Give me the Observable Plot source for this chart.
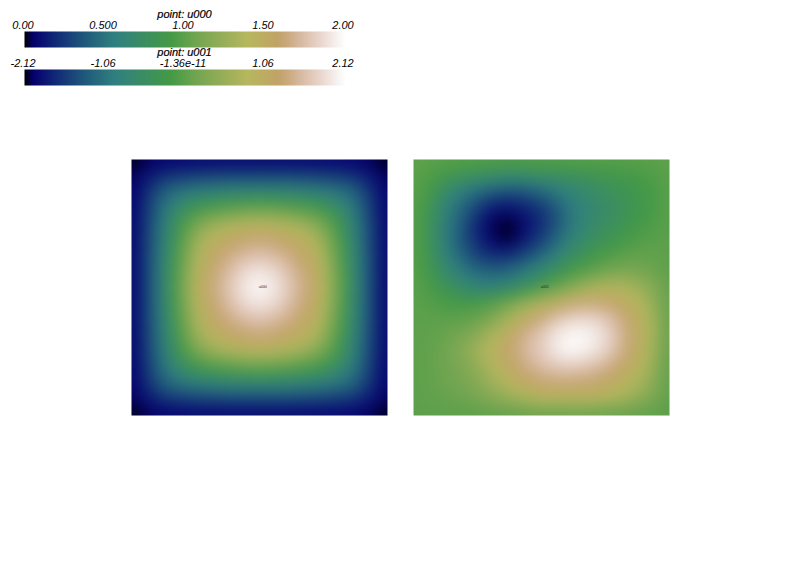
<!DOCTYPE html>
<html>
<head>
<meta charset="utf-8">
<script src="https://cdn.jsdelivr.net/npm/d3@7"></script>
<script src="https://cdn.jsdelivr.net/npm/@observablehq/plot@0.6"></script>
<style>
html,body{margin:0;padding:0;background:#fff;}
#page{position:relative;width:800px;height:575px;overflow:hidden;background:#fff;}
#page svg{position:absolute;overflow:visible;}
</style>
</head>
<body>
<div id="page"></div>
<script>
const earthStops = [0,.0275,.11,.1647,.2078,.2824,.4588,.5216,.549,.698,.7882,.8157,.8667,.93,.98,1];
const earthColors = ["#000000","#05006e","#133078","#1c4d7a","#23627c","#308080","#459a46","#69a34e","#78a652","#b7b75e","#c1a366","#c8a778","#d9bba5","#ebd8d0","#f8f4f1","#fefefe"];

const u000Ticks = [0,0.5,1,1.5,2];
const u000Labels = ["0.00","0.500","1.00","1.50","2.00"];
const u001Ticks = [-2.12,-1.06,0,1.06,2.12];
const u001Labels = ["-2.12","-1.06","-1.36e-11","1.06","2.12"];

const u000Rows = [
[0,.04,.05,.05,.05,.05,.05,.05,.05,.05,.05,.05,.05,.05,.05,.04,0],
[.04,.14,.22,.26,.28,.29,.30,.30,.30,.30,.30,.29,.28,.26,.22,.14,.04],
[.05,.22,.42,.50,.56,.59,.62,.63,.64,.63,.62,.59,.56,.50,.42,.22,.05],
[.05,.26,.50,.72,.85,.93,.98,1.01,1.03,1.01,.98,.93,.85,.72,.50,.26,.05],
[.05,.28,.56,.85,1.12,1.24,1.33,1.38,1.41,1.38,1.33,1.24,1.12,.85,.56,.28,.05],
[.05,.29,.59,.93,1.24,1.44,1.53,1.60,1.63,1.60,1.53,1.44,1.24,.93,.59,.29,.05],
[.05,.30,.62,.98,1.33,1.53,1.66,1.73,1.77,1.73,1.66,1.53,1.33,.98,.62,.30,.05],
[.05,.30,.63,1.01,1.38,1.60,1.73,1.87,1.92,1.87,1.73,1.60,1.38,1.01,.63,.30,.05],
[.05,.30,.64,1.03,1.41,1.63,1.77,1.92,2.00,1.92,1.77,1.63,1.41,1.03,.64,.30,.05],
[.05,.30,.63,1.01,1.38,1.60,1.73,1.87,1.92,1.87,1.73,1.60,1.38,1.01,.63,.30,.05],
[.05,.30,.62,.98,1.33,1.53,1.66,1.73,1.77,1.73,1.66,1.53,1.33,.98,.62,.30,.05],
[.05,.29,.59,.93,1.24,1.44,1.53,1.60,1.63,1.60,1.53,1.44,1.24,.93,.59,.29,.05],
[.05,.28,.56,.85,1.12,1.24,1.33,1.38,1.41,1.38,1.33,1.24,1.12,.85,.56,.28,.05],
[.05,.26,.50,.72,.85,.93,.98,1.01,1.03,1.01,.98,.93,.85,.72,.50,.26,.05],
[.05,.22,.42,.50,.56,.59,.62,.63,.64,.63,.62,.59,.56,.50,.42,.22,.05],
[.04,.14,.22,.26,.28,.29,.30,.30,.30,.30,.30,.29,.28,.26,.22,.14,.04],
[0,.04,.05,.05,.05,.05,.05,.05,.05,.05,.05,.05,.05,.05,.05,.04,0]
];

const u001Rows = [
[0,0,0,0,0,0,0,0,0,0,0,0,0,0,0,0,0],
[0,-.1,-.25,-.4,-.5,-.6,-.65,-.6,-.55,-.5,-.45,-.38,-.3,-.25,-.18,-.1,0],
[0,-.2,-.65,-.95,-1.15,-1.3,-1.4,-1.35,-1.2,-1.0,-.8,-.65,-.5,-.4,-.28,-.15,0],
[0,-.35,-.85,-1.2,-1.55,-1.85,-1.85,-1.75,-1.6,-1.3,-.95,-.75,-.6,-.45,-.3,-.15,0],
[0,-.38,-.95,-1.3,-1.75,-2.05,-2.12,-1.9,-1.7,-1.35,-.95,-.7,-.55,-.4,-.22,-.1,0],
[0,-.38,-.95,-1.35,-1.7,-2.0,-2.1,-1.8,-1.55,-1.15,-.8,-.55,-.38,-.22,-.08,-.02,0],
[0,-.33,-.85,-1.2,-1.55,-1.65,-1.65,-1.45,-1.15,-.85,-.5,-.3,-.12,0,.06,.05,0],
[0,-.25,-.65,-.95,-1.15,-1.25,-1.15,-.95,-.7,-.4,-.15,.02,.18,.25,.22,.12,0],
[0,-.15,-.35,-.65,-.85,-.85,-.7,-.45,-.15,.1,.4,.7,.82,.78,.6,.32,0],
[0,-.05,-.15,-.2,-.15,0,.25,.55,.85,1.1,1.25,1.35,1.3,1.15,.85,.5,0],
[0,0,0,.03,.1,.3,.7,1.1,1.4,1.7,1.85,1.85,1.7,1.4,1.05,.6,0],
[0,.02,.1,.2,.4,.78,1.15,1.5,1.7,2.0,2.1,2.05,1.85,1.5,1.1,.65,0],
[0,.05,.15,.35,.65,.95,1.25,1.55,1.7,2.0,2.1,1.98,1.8,1.45,1.05,.6,0],
[0,.05,.15,.25,.45,.8,1.15,1.4,1.55,1.65,1.68,1.6,1.45,1.2,.9,.5,0],
[0,.05,.12,.2,.35,.6,.85,1.1,1.3,1.3,1.3,1.28,1.15,.95,.72,.4,0],
[0,.03,.08,.12,.2,.35,.5,.65,.8,.82,.85,.85,.78,.65,.45,.25,0],
[0,0,0,0,0,0,0,0,0,0,0,0,0,0,0,0,0]
];

const page = document.getElementById("page");
const fontFamily = "'Liberation Sans', Arial, sans-serif";

function colorScale(min, max) {
  return {
    type: "linear",
    domain: earthStops.map(t => min + t * (max - min)),
    range: earthColors,
    interpolate: "rgb",
    clamp: true
  };
}

function place(svg, left, top) {
  svg.style.left = left + "px";
  svg.style.top = top + "px";
  page.appendChild(svg);
}

function colorbar(title, ticks, labels, top) {
  const min = ticks[0], max = ticks[ticks.length - 1];
  const svg = Plot.plot({
    width: 370, height: 47,
    marginTop: 31, marginBottom: 0, marginLeft: 24, marginRight: 26,
    style: {background: "transparent", fontFamily},
    x: {domain: [min, max], axis: null},
    y: {domain: [0, 1], axis: null},
    color: colorScale(min, max),
    marks: [
      Plot.raster({fill: (x) => x, x1: min, x2: max, y1: 0, y2: 1, pixelSize: 1}),
      Plot.axisX({
        anchor: "top", ticks, tickSize: 0, tickPadding: 3, label: null, dx: -1.5,
        tickFormat: d => labels[ticks.indexOf(d)],
        fontSize: 11, fontStyle: "italic", fill: "#000", stroke: "#000", strokeWidth: 0.2
      }),
      Plot.text([title], {
        frameAnchor: "top", dy: -21, fontSize: 11, fontStyle: "italic",
        fill: "#000", stroke: "#000", strokeWidth: 0.2
      })
    ]
  });
  place(svg, 0, top);
}

function heatmap(name, rows, min, max, left) {
  const cells = rows.flatMap((row, r) => row.map((v, c) => ({r, c, v})));
  const svg = Plot.plot({
    width: 256, height: 256, margin: 0,
    style: {background: "transparent", fontFamily},
    x: {domain: [0, 16], axis: null},
    y: {domain: [16, 0], axis: null},
    color: colorScale(min, max),
    marks: [
      Plot.raster(cells, {x: "c", y: "r", fill: "v", interpolate: "barycentric", blur: 7, pixelSize: 1, width: 256, height: 256}),
      Plot.text([name], {x: () => 8.2, y: () => 7.95, fontSize: 3.6, fill: "#222"})
    ]
  });
  place(svg, left, 159);
}

colorbar("point: u000", u000Ticks, u000Labels, 0);
colorbar("point: u001", u001Ticks, u001Labels, 38);
heatmap("u000", u000Rows, 0, 2, 131);
heatmap("u001", u001Rows, -2.12, 2.12, 412.5);
</script>
</body>
</html>
